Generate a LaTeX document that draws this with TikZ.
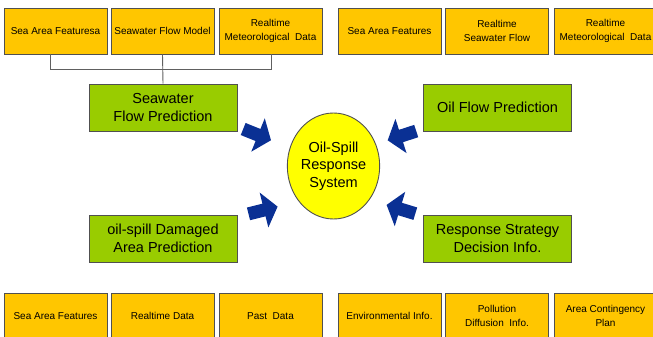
\documentclass[tikz,border=0pt]{standalone}
\usepackage{fontspec}
\setmainfont{Liberation Sans}
\usetikzlibrary{shapes.geometric}

\definecolor{dataYellow}{RGB}{255,198,0}
\definecolor{taskGreen}{RGB}{153,204,0}
\definecolor{coreYellow}{RGB}{255,255,0}
\definecolor{edgeGray}{RGB}{80,80,80}
\definecolor{linkGray}{RGB}{96,96,96}
\definecolor{arrowBlue}{RGB}{10,48,148}

\tikzset{
  databox/.style={draw=edgeGray, fill=dataYellow, line width=0.9pt,
    minimum width=103pt, minimum height=46pt, inner sep=0pt, align=center,
    font=\fontsize{10}{13.5}\selectfont},
  taskbox/.style={draw=edgeGray, fill=taskGreen, line width=0.9pt,
    minimum width=148pt, minimum height=47pt, inner sep=0pt, align=center,
    font=\fontsize{14.5}{18.5}\selectfont},
  corenode/.style={ellipse, draw=edgeGray, fill=coreYellow, line width=0.9pt,
    minimum width=91pt, minimum height=106pt, inner sep=0pt, align=center,
    font=\fontsize{14.5}{17.5}\selectfont},
  link/.style={draw=linkGray, line width=0.9pt},
  inarrow/.pic={
    \fill[arrowBlue] (-16,-6.5) -- (0,-6.5) -- (0,-18) -- (14,0)
      -- (0,18) -- (0,6.5) -- (-16,6.5) -- cycle;
  }
}

\begin{document}
\begin{tikzpicture}[x=1pt,y=-1pt]
\useasboundingbox (0,0) rectangle (653,337);
\clip (0,0) rectangle (653,337);

% input data, top row
\node[databox] (t1) at (55.5,31)  {Sea Area Featuresa};
\node[databox] (t2) at (162.5,31) {Seawater Flow Model};
\node[databox] (t3) at (270.5,31) {Realtime\\Meteorological\ \ Data};
\node[databox] (t4) at (389.5,31) {Sea Area Features};
\node[databox] (t5) at (497,31)   {Realtime\\Seawater Flow};
\node[databox] (t6) at (605.5,31) {Realtime\\Meteorological\ \ Data};

% input data, bottom row
\node[databox] (b1) at (55.5,316)  {Sea Area Features};
\node[databox] (b2) at (162.5,316) {Realtime Data};
\node[databox] (b3) at (270.5,316) {Past\ \ Data};
\node[databox] (b4) at (389.5,316) {Environmental Info.};
\node[databox] (b5) at (497,316)   {Pollution\\Diffusion\ \ Info.};
\node[databox] (b6) at (605.5,316) {Area Contingency\\Plan};

% prediction / decision modules
\node[taskbox] (g1) at (163,107.5)   {Seawater\\Flow Prediction};
\node[taskbox] (g2) at (497.5,107.5) {Oil Flow Prediction};
\node[taskbox] (g3) at (163,238.5)   {oil-spill Damaged\\Area Prediction};
\node[taskbox] (g4) at (497.5,238.5) {Response Strategy\\Decision Info.};

% central system
\node[corenode] (core) at (333.5,166) {Oil-Spill\\Response\\System};

% bracket joining the inputs of the seawater flow prediction
\coordinate (j1) at (50,69);
\coordinate (j3) at (271,69);
\draw[link] (t1.south -| j1) -- (j1) -- (j3) -- (t3.south -| j3);
\draw[link] (t2.south) -- (g1.north);

% block arrows pointing at the central system
\pic[rotate=-22] (a1) at (258,135) {inarrow};
\pic[rotate=198] (a2) at (401,136) {inarrow};
\pic[rotate=14]  (a3) at (264,210) {inarrow};
\pic[rotate=163] (a4) at (400,209) {inarrow};
\end{tikzpicture}
\end{document}
